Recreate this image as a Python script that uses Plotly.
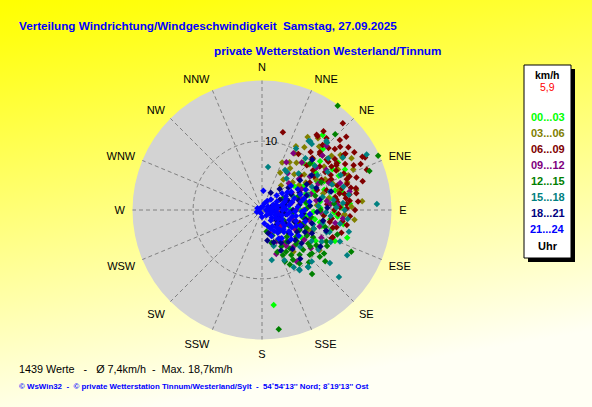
import base64
import plotly.graph_objects as go

# ---------------- data (direction in degrees from N, speed km/h) ----------------
hour_groups = ["00...03", "03...06", "06...09", "09...12", "12...15", "15...18", "18...21", "21...24"]
group_colors = ["#00FF00", "#808000", "#800000", "#800080", "#008000", "#008080", "#000080", "#0000FF"]

pts_00_03 = [(108,13.0),(173,13.9),(39,14.0),(88,11.5),(80,10.0),(100,7.8),(41,9.1),(64,13.4),(60,7.0),(70,8.0),
             (75,6.0),(85,7.0),(95,9.0),(105,10.5),(110,8.0),(115,6.0),(65,10.0),(55,8.5),(50,11.0),(90,5.5),
             (78,12.0),(68,5.0),(120,9.0),(72,9.5),(82,8.5),(92,10.5),(58,6.0),(100,12.0),(46,7.5),(125,7.0),
             (88,4.0),(97,6.5),(75,11.0),(62,9.0),(84,9.8),(102,8.6),(52,5.8),(45,12.5),(113,11.5),(70,6.8),
             (55,9.5),(68,10.8),(78,9.0),(88,8.5),(95,11.0),(105,9.0),(60,11.8),(48,10.0),(72,7.2),(82,6.5),
             (92,7.5),(98,10.0),(66,12.2),(58,13.0),(86,12.8)]
pts_03_06 = [(34,11.0),(23,7.5),(35,5.4),(57,13.9),(66,14.5),(85,14.6),(94,11.9),(42,12.4),(55,13.9),(34,7.3),
             (75,9.2),(80,9.8),(93,12.0),(112,7.8),(143,7.6),(125,10.2),(113,7.3),(40,9.0),(50,8.0),(45,10.5),
             (60,9.0),(55,11.0),(30,9.5),(65,7.0),(70,11.0),(48,6.0),(38,4.5),(62,12.5),(52,10.0),(85,8.0),
             (28,10.5),(44,13.5),(90,6.0),(100,9.0),(36,8.5),(58,7.5),(48,11.8),(72,13.0),(26,6.0),
             (32,12.5),(38,13.2),(46,9.5),(52,12.8),(64,10.2),(68,13.5),(78,14.0),(82,10.8),(88,13.0),(42,7.0),
             (56,6.5),(30,8.0),(96,13.5),(76,11.5),(60,15.0)]
pts_06_09 = [(43,17.2),(48,15.2),(54,15.5),(15,11.7),(37,13.4),(63,16.8),(69,16.3),(56,14.3),(33,9.7),(62,16.5),
             (77,14.0),(84,12.8),(70,13.1),(61,13.8),(112,10.9),(104,10.6),(36,13.5),(43,12.9),(45,11.9),(54,11.9),
             (58,11.9),(58,12.8),(56,14.6),(69,13.6),(86,12.3),(80,10.8),(73,9.8),(88,11.3),(63,9.7),(59,10.7),
             (80,12.9),(80,13.9),(82,12.3),(93,11.1),(97,10.2),(103,11.1),(111,11.0),(109,5.8),(82,10.9),(46,11.7),
             (52,11.9),(59,12.6),(73,12.9),(75,12.0),(52,9.4),(45,9.2),(66,11.0),(50,13.8),(40,11.0),(64,14.8),
             (74,15.2),(90,13.5),(95,9.0),(70,8.5),(60,8.0),(85,9.5),(100,12.5),(48,7.5),(67,10.5),(78,11.5),(57,9.0),
             (38,14.5),(42,14.0),(47,13.2),(51,14.6),(55,12.9),(62,12.2),(66,13.0),(71,14.5),(76,13.3),(79,12.2),
             (85,14.0),(89,12.3),(94,12.8),(98,11.8),(106,12.0),(65,15.8),(58,15.8),(49,16.2),(72,11.5),(84,11.0),
             (90,10.5),(100,10.0),(44,10.5),(53,10.5),(63,11.2)]
pts_09_12 = [(29,9.4),(27,7.8),(162,6.7),(71,12.0),(146,6.3),(100,10.8),(161,3.6),(148,4.9),(146,9.0),(106,8.7),
             (147,5.7),(60,5.0),(75,6.0),(90,5.0),(105,4.5),(120,5.5),(135,4.0),(80,8.0),(95,7.0),(65,9.0),
             (50,7.0),(45,5.5),(85,10.0),(110,6.5),(125,7.5),(140,7.0),(155,5.0),(70,3.5),(88,3.0),(58,11.0),
             (40,9.0),(115,9.5),(130,3.5),(100,2.5),(35,6.5),(78,13.0),(45,13.2),(96,11.8),
             (55,8.5),(68,10.5),(72,7.5),(82,9.5),(92,8.5),(102,7.0),(108,9.8),(118,7.5),(62,6.5),(52,10.0),
             (48,11.8),(86,11.0),(76,4.5),(95,6.0),(128,9.0)]
pts_12_15 = [(36,18.7),(44,15.3),(65,18.6),(70,16.6),(115,14.3),(129,11.8),(142,11.8),(164,5.0),(156,8.2),(153,8.9),
             (172,17.5),(126,8.3),(123,9.4),(129,10.8),(131,9.6),(134,8.3),(144,6.9),(152,6.0),(151,4.9),(137,5.3),
             (128,6.3),(124,9.9),(116,10.4),(147,7.8),(118,8.4),(61,3.5),(113,5.5),(118,6.2),(108,6.3),(46,9.7),
             (140,4.0),(120,4.5),(100,6.0),(135,7.0),(110,8.0),(145,9.5),(160,6.5),(130,5.0),(150,7.0),(105,9.5),
             (90,8.5),(80,6.5),(70,5.5),(125,11.0),(138,10.2),(158,4.0),(168,3.2),(115,3.5),(95,4.5),(85,10.5),
             (112,7.0),(120,7.5),(127,8.8),(133,9.5),(140,8.5),(148,8.5),(155,7.2),(119,10.8),(108,11.5),(98,7.2),
             (88,6.5),(75,8.0),(65,9.5),(142,5.8),(132,6.8)]
pts_15_18 = [(35,12.2),(43,13.7),(62,17.2),(87,16.7),(8,6.3),(29,10.2),(74,12.3),(118,14.0),(131,14.8),(148,10.2),
             (151,9.5),(169,7.4),(141,10.6),(34,12.1),(37,12.0),(44,13.6),(30,6.7),(38,5.8),(57,14.0),(109,9.9),
             (106,7.7),(141,10.7),(134,7.7),(136,10.4),(148,10.3),(82,10.5),(100,11.5),(108,10.3),(33,6.6),(90,12.0),
             (95,10.0),(85,11.8),(78,9.0),(70,10.8),(115,11.0),(122,8.5),(60,11.0),(50,10.0),(104,13.0),(92,9.3),
             (65,8.0),(45,7.5),(128,12.5),(156,8.0),(162,5.5),
             (75,10.2),(80,12.8),(88,10.8),(96,12.5),(102,9.0),(112,12.2),(118,9.8),(125,10.0),(58,9.5),(66,12.5),
             (52,12.2),(40,9.8),(72,7.0),(86,8.2),(110,8.0)]
pts_18_21 = [(27,2.8),(165,3.5),(142,9.0),(45,10.3),(117,7.0),(122,10.0),(55,8.8),(75,10.4),(60,3.0),(70,4.0),
             (80,2.5),(90,4.5),(100,3.5),(110,5.0),(120,4.0),(130,5.0),(140,6.0),(150,5.5),(160,5.0),(95,6.0),
             (85,7.0),(105,7.5),(65,6.0),(50,5.0),(115,8.0),(130,7.5),(75,5.5),(90,1.8),(135,3.0),(155,6.5),
             (170,4.5),(100,9.0),(40,4.0),(60,7.5),(80,8.5),(125,2.5),(145,4.0),(110,2.5),(95,3.0),(70,1.5),
             (62,4.8),(72,6.8),(82,5.5),(92,8.0),(102,6.5),(112,6.2),(122,6.0),(132,6.5),(142,7.2),(52,7.0),
             (88,9.5),(108,9.8),(78,3.5),(68,8.5),(118,3.0)]
pts_21_24 = [(90,1.0),(80,1.5),(100,1.5),(70,2.0),(85,2.2),(95,2.0),(110,2.0),(120,2.3),(60,2.5),(75,3.0),
             (90,3.0),(105,3.0),(115,3.2),(130,3.0),(140,3.3),(150,3.5),(65,3.8),(80,4.0),(95,4.0),(110,4.2),
             (125,4.0),(135,4.5),(145,4.0),(55,4.5),(70,5.0),(85,5.2),(100,5.0),(115,5.5),(60,6.0),(75,6.3),
             (90,6.2),(105,6.5),(50,5.5),(65,7.0),(120,5.0),(130,5.5),(155,3.0),(160,2.5),(170,2.0),(45,3.0),
             (40,2.0),(30,1.5),(20,1.0),(4,2.8),(270,0.5),(250,0.8),(290,0.7),(200,0.5),(180,1.0),(140,2.0),
             (100,0.7),(60,1.0),(75,4.5),(88,3.5),(98,5.8),(112,6.0),(125,6.5),(95,7.0),(80,7.0),(135,6.0),
             (145,5.0),(150,4.8),(160,4.0),(60,4.0),(50,3.8),(100,3.7),(118,2.7),(128,1.8),(85,0.6),(140,1.0),
             (10,0.5),(340,0.4),
             (70,3.5),(82,3.2),(92,4.8),(102,4.5),(108,5.2),(118,4.5),(128,5.0),(138,3.8),(148,2.8),(78,5.8),
             (68,6.0),(58,5.0),(92,5.8),(122,3.5),(132,4.2),(105,2.5),(95,1.2),(75,2.3),(65,1.8),(115,1.3)]
group_points = [pts_00_03, pts_03_06, pts_06_09, pts_09_12, pts_12_15, pts_15_18, pts_18_21, pts_21_24]

dir_ticks = [0, 22.5, 45, 67.5, 90, 112.5, 135, 157.5, 180, 202.5, 225, 247.5, 270, 292.5, 315, 337.5]
dir_labels = ["N", "NNE", "NE", "ENE", "E", "ESE", "SE", "SSE", "S", "SSW", "SW", "WSW", "W", "WNW", "NW", "NNW"]
radial_max = 18.8
radial_ticks = [10]

title1 = "Verteilung Windrichtung/Windgeschwindigkeit\u00a0 Samstag, 27.09.2025"
title2 = "private Wetterstation Westerland/Tinnum"
stats_text = "1439 Werte \u00a0 - \u00a0 Ø 7,4km/h \u00a0- \u00a0Max. 18,7km/h"
footer_text = ("© WsWin32 \u00a0- \u00a0© private Wetterstation Tinnum/Westerland/Sylt \u00a0- \u00a0"
               "54˚54'13'' Nord; 8˚19'13'' Ost")
current_speed = "5,9"

# ---------------- figure ----------------
W, H = 592, 407
def px(x): return x / W
def py(y): return 1 - y / H

fig = go.Figure()
for name, color, pts in zip(hour_groups, group_colors, group_points):
    fig.add_trace(go.Scatterpolar(
        theta=[p[0] for p in pts], r=[p[1] for p in pts],
        mode="markers", name=name,
        marker=dict(symbol="diamond", size=5, color=color, line=dict(width=0)),
        hoverinfo="skip", showlegend=False,
    ))

cx, cy, R = 262, 210, 129.5
svg = ('<svg xmlns="http://www.w3.org/2000/svg" width="592" height="407">'
       '<defs><linearGradient id="g" x1="0" y1="0" x2="0.25" y2="1">'
       '<stop offset="0" stop-color="#FFFF00"/><stop offset="0.08" stop-color="#FFFF10"/>'
       '<stop offset="1" stop-color="#FFFFF4"/></linearGradient></defs>'
       '<rect width="592" height="407" fill="url(#g)"/></svg>')
bg_uri = "data:image/svg+xml;base64," + base64.b64encode(svg.encode()).decode()

font = "Liberation Sans, Arial, sans-serif"
fig.update_layout(
    width=W, height=H, margin=dict(l=0, r=0, t=0, b=0),
    paper_bgcolor="#FFFF90",
    images=[dict(source=bg_uri, xref="paper", yref="paper", x=0, y=1, sizex=1, sizey=1,
                 sizing="stretch", layer="below", xanchor="left", yanchor="top")],
    font=dict(family=font, color="black"),
    polar=dict(
        domain=dict(x=[px(cx - R), px(cx + R)], y=[py(cy + R), py(cy - R)]),
        bgcolor="#D3D3D3",
        radialaxis=dict(range=[0, radial_max], tickvals=radial_ticks, showticklabels=False,
                        angle=90, showline=False, ticks="", gridcolor="#808080",
                        griddash="4px,3px", gridwidth=1),
        angularaxis=dict(rotation=90, direction="clockwise", tickvals=dir_ticks, ticktext=dir_labels,
                         showline=False, ticks="outside", ticklen=5, tickcolor="rgba(0,0,0,0)",
                         gridcolor="#808080", griddash="4px,3px", gridwidth=1,
                         tickfont=dict(size=11, color="black", family=font)),
    ),
)

# legend box with shadow
fig.add_shape(type="rect", xref="paper", yref="paper", x0=px(528), x1=px(575), y0=py(262), y1=py(69),
              fillcolor="black", line=dict(width=0), layer="below")
fig.add_shape(type="rect", xref="paper", yref="paper", x0=px(524), x1=px(571), y0=py(258), y1=py(65),
              fillcolor="white", line=dict(color="black", width=1), layer="below")

ann = []
# radial tick label, placed on the N spoke via the radial scale
for v in radial_ticks:
    ann.append(dict(text=str(v), x=px(cx + 9), y=py(cy - v / radial_max * R), xanchor="center",
                    yanchor="middle", font=dict(size=11, color="black", family=font)))
ann.append(dict(text="<b>%s</b>" % title1, x=px(17), y=py(25), xanchor="left", yanchor="middle",
                font=dict(size=11.7, color="#0000FF", family=font)))
ann.append(dict(text="<b>%s</b>" % title2, x=px(212), y=py(50), xanchor="left", yanchor="middle",
                font=dict(size=11.7, color="#0000FF", family=font)))
ann.append(dict(text=stats_text, x=px(17), y=py(369), xanchor="left", yanchor="middle",
                font=dict(size=10.8, color="black", family=font)))
ann.append(dict(text="<b>%s</b>" % footer_text, x=px(17), y=py(386), xanchor="left", yanchor="middle",
                font=dict(size=7.9, color="#0000FF", family=font)))
lx = px(547.5)
ann.append(dict(text="<b>km/h</b>", x=lx, y=py(75), xanchor="center", yanchor="middle",
                font=dict(size=10.5, color="black", family=font)))
ann.append(dict(text=current_speed, x=lx, y=py(87.5), xanchor="center", yanchor="middle",
                font=dict(size=10.5, color="#FF0000", family=font)))
for i, (name, color) in enumerate(zip(hour_groups, group_colors)):
    ann.append(dict(text="<b>%s</b>" % name, x=lx, y=py(117.3 + 16 * i), xanchor="center", yanchor="middle",
                    font=dict(size=11, color=color, family=font)))
ann.append(dict(text="<b>Uhr</b>", x=lx, y=py(246), xanchor="center", yanchor="middle",
                font=dict(size=11, color="black", family=font)))
for a in ann:
    a.update(xref="paper", yref="paper", showarrow=False)
fig.update_layout(annotations=ann)

fig.write_html("out.html", config={"displayModeBar": False, "staticPlot": True},
               post_script="document.body.style.margin='0';document.body.style.overflow='hidden';")
